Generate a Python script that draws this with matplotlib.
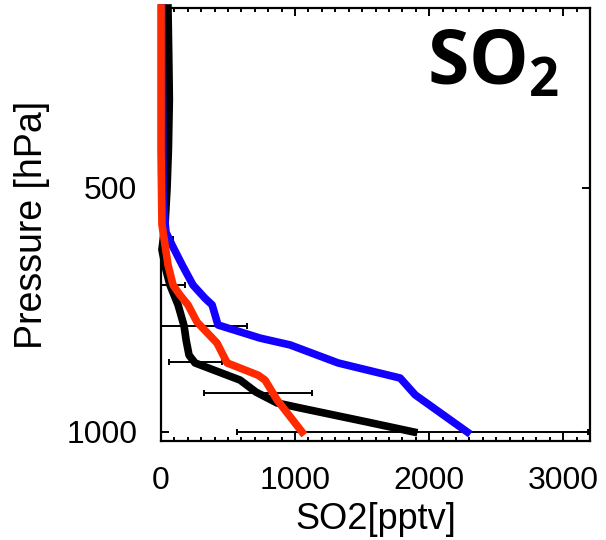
import matplotlib
matplotlib.use("Agg")
import matplotlib.pyplot as plt
from matplotlib.ticker import NullLocator, MultipleLocator, FixedLocator

plt.rcParams['font.family'] = ['Liberation Sans', 'DejaVu Sans']
plt.rcParams['mathtext.fontset'] = 'custom'
plt.rcParams['mathtext.rm'] = 'Open Sans:bold'
plt.rcParams['mathtext.it'] = 'Open Sans:bold'

# observed profile (black) with spread
obs_p = [300, 347, 389, 449, 500, 555, 596, 631, 659, 697, 740, 770, 804, 822,
         863, 893, 921, 934, 972, 1000]
obs_so2 = [52, 58, 62, 55, 45, 30, 7, 37, 67, 127, 172, 187, 209, 254,
           590, 709, 866, 1037, 1537, 1885]

err_p = [419, 578, 659, 740, 820, 895, 1000]
err_so2 = [60, 15, 67, 172, 257, 724, 1877]
err_sd = [15, 75, 112, 470, 198, 403, 1310]

# model run 1 (blue)
blue_p = [300, 517, 567, 588, 622, 659, 684, 697, 717, 738, 766, 781, 822,
          858, 900, 1000]
blue_so2 = [7, 15, 37, 82, 157, 239, 328, 381, 403, 425, 739, 963, 1321,
            1784, 1896, 2284]

# model run 2 (red)
red_p = [300, 449, 555, 588, 622, 659, 678, 697, 732, 777, 822, 851, 863,
         913, 1000]
red_so2 = [0, 0, 7, 30, 52, 90, 142, 201, 269, 418, 493, 724, 776, 866, 1052]

fig = plt.figure(figsize=(6.06, 5.4), dpi=100)
ax = fig.add_axes([0.2657, 0.1833, 0.7079, 0.8019])

ax.errorbar(err_so2, err_p, xerr=err_sd, fmt='none', ecolor='black',
            elinewidth=1.4, capsize=2.2, capthick=1.4, zorder=2)
ax.plot(obs_so2, obs_p, color='black', lw=5.5, clip_on=False, zorder=3)
ax.plot(blue_so2, blue_p, color='#1400ff', lw=5.5, clip_on=False, zorder=4)
ax.plot(red_so2, red_p, color='#ff2a00', lw=5.5, clip_on=False, zorder=5)

ax.set_yscale('log')
ax.set_ylim(1026, 300)
ax.set_xlim(0, 3200)
ax.yaxis.set_major_locator(FixedLocator([500, 1000]))
ax.yaxis.set_minor_locator(NullLocator())
ax.set_yticklabels(['500', '1000'])
ax.xaxis.set_major_locator(MultipleLocator(1000))
ax.xaxis.set_minor_locator(MultipleLocator(100))

ax.tick_params(which='both', direction='in', top=True, right=True,
               labelsize=23, width=1.4)
ax.tick_params(which='major', length=6)
ax.tick_params(which='minor', length=3)
ax.tick_params(axis='x', which='both', pad=18)
ax.tick_params(axis='y', which='both', pad=17)
for s in ax.spines.values():
    s.set_linewidth(1.6)

ax.set_xlabel('SO2[pptv]', fontsize=26, labelpad=4)
ax.set_ylabel('Pressure [hPa]', fontsize=27, labelpad=12)

ax.text(0.927, 0.952, r'$\mathrm{SO_2}$', transform=ax.transAxes,
        fontsize=54, ha='right', va='top')

fig.savefig('out.png', dpi=100)
